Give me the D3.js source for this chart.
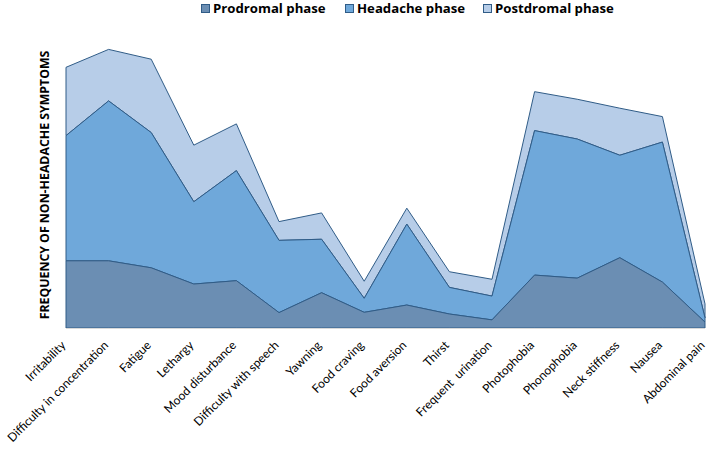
<html>
<head>
<style>
  body { margin: 0; background: #fff; }
  svg { display: block; }
</style>
</head>
<body>
<script src="https://d3js.org/d3.v7.min.js"></script>
<script>
// symptom categories
const symptoms = ["Irritability", "Difficulty in concentration", "Fatigue", "Lethargy",
  "Mood disturbance", "Difficulty with speech", "Yawning", "Food craving", "Food aversion",
  "Thirst", "Frequent  urination", "Photophobia", "Phonophobia", "Neck stiffness",
  "Nausea", "Abdominal pain"];

// values (arbitrary frequency units)
const prodromal  = [24.0, 24.0, 21.5, 15.7, 16.9, 5.5, 12.6, 5.6, 8.2, 5.0, 2.9, 18.9, 17.8, 25.1, 16.4, 2.1];
const headache   = [44.7, 57.1, 48.3, 29.4, 39.3, 25.8, 19.1, 5.0, 28.9, 9.5, 8.5, 51.6, 49.7, 36.6, 50.0, 1.5];
const postdromal = [24.4, 18.4, 26.2, 20.2, 16.7, 6.7, 9.4, 6.1, 5.7, 5.6, 6.0, 13.9, 14.2, 16.8, 9.1, 5.0];

const seriesNames = ["Prodromal phase", "Headache phase", "Postdromal phase"];
const colors = ["#6b8eb3", "#6fa8da", "#b7cde8"];

const width = 708, height = 455;
const margin = {left: 66, right: 3, top: 48, bottom: 127};

const svg = d3.select("body").append("svg")
  .attr("width", width)
  .attr("height", height);

const rows = symptoms.map((s, i) => ({
  name: s, p: prodromal[i], h: headache[i], q: postdromal[i]
}));

const stack = d3.stack().keys(["p", "h", "q"]);
const layers = stack(rows);

const x = d3.scalePoint()
  .domain(symptoms)
  .range([margin.left, width - margin.right]);

const y = d3.scaleLinear()
  .domain([0, 100])
  .range([height - margin.bottom, margin.top]);

const area = d3.area()
  .x(d => x(d.data.name))
  .y0(d => y(d[0]))
  .y1(d => y(d[1]));

// top layer first so the lower layers' outlines stay visible
svg.append("g")
  .selectAll("path")
  .data(layers.slice().reverse())
  .join("path")
  .attr("d", area)
  .attr("fill", (d, i) => colors[2 - i])
  .attr("stroke", "#305c87")
  .attr("stroke-width", 1)
  .attr("stroke-linejoin", "round");

// baseline
svg.append("line")
  .attr("x1", margin.left).attr("x2", width - margin.right)
  .attr("y1", y(0) + 0.5).attr("y2", y(0) + 0.5)
  .attr("stroke", "#d9d9d9");

// x axis labels
const xAxis = d3.axisBottom(x).tickSize(0).tickPadding(0);
const gx = svg.append("g")
  .attr("transform", "translate(0," + y(0) + ")")
  .call(xAxis);
gx.select(".domain").remove();
gx.selectAll("text")
  .attr("font-family", "Lato, 'Open Sans', sans-serif")
  .attr("font-size", 12)
  .attr("fill", "#000")
  .attr("text-anchor", "end")
  .attr("dy", "0.35em")
  .attr("transform", "translate(-3,15) rotate(-45)")
  .attr("x", 0).attr("y", 0)
  .style("white-space", "pre");

// y title
svg.append("text")
  .attr("transform", "translate(49,185) rotate(-90)")
  .attr("text-anchor", "middle")
  .attr("font-family", "'Open Sans', sans-serif")
  .attr("font-weight", "bold")
  .attr("font-size", 12.3)
  .text("FREQUENCY OF NON-HEADACHE SYMPTOMS");

// legend
const legendX = [201, 345, 483];
const legend = svg.append("g");
seriesNames.forEach((n, i) => {
  const g = legend.append("g").attr("transform", "translate(" + legendX[i] + ",0)");
  g.append("rect").attr("x", 0.5).attr("y", 4.5).attr("width", 8).attr("height", 8)
    .attr("fill", colors[i]).attr("stroke", "#305c87");
  g.append("text").attr("x", 12).attr("y", 13)
    .attr("font-family", "'Open Sans', sans-serif")
    .attr("font-weight", "bold")
    .attr("font-size", 13.2)
    .text(n);
});
</script>
</body>
</html>
